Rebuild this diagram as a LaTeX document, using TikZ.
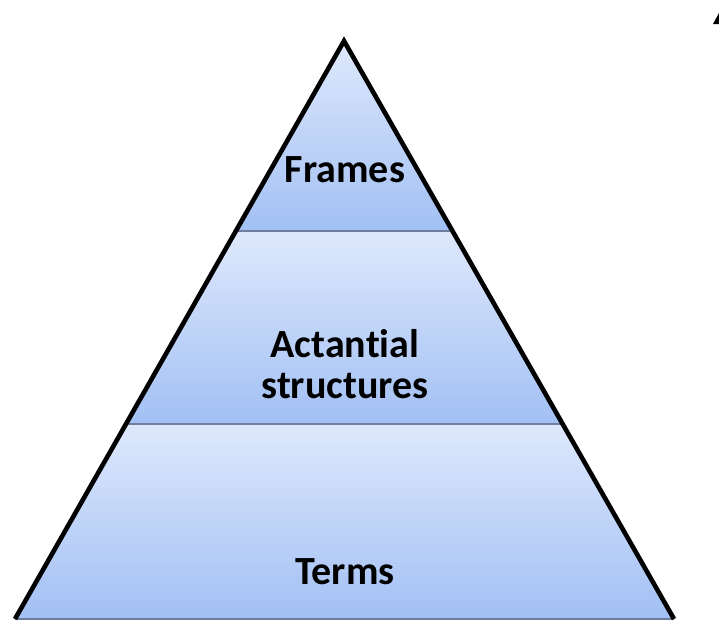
\documentclass[tikz,border=0pt]{standalone}
\usepackage{fontspec}
\setmainfont{Carlito}[Ligatures={NoCommon}]
\usetikzlibrary{calc}
\definecolor{bandtop}{RGB}{222,232,252}
\definecolor{bandbot}{RGB}{162,192,244}
\definecolor{divider}{RGB}{110,126,156}
\tikzset{
  band/.style={top color=bandtop, bottom color=bandbot, draw=none},
  divline/.style={draw=divider, line width=1.6pt},
  edge/.style={draw=black, line width=4.6pt, line join=miter, line cap=butt},
  label/.style={font=\fontsize{40}{41}\selectfont\bfseries, text=black, align=center, inner sep=0pt},
}
\begin{document}
\begin{tikzpicture}[x=1pt, y=-1pt]
  \useasboundingbox (0,0) rectangle (719,622);
  % pyramid corners
  \coordinate (apex) at (344,41);
  \coordinate (bl) at (15,619);
  \coordinate (br) at (674,619);
  % points where the dividers meet the sides
  \coordinate (l1) at ($(apex)!0.3287!(bl)$);
  \coordinate (r1) at ($(apex)!0.3287!(br)$);
  \coordinate (l2) at ($(apex)!0.6626!(bl)$);
  \coordinate (r2) at ($(apex)!0.6626!(br)$);
  % shaded bands
  \shade[band] (apex) -- (r1) -- (l1) -- cycle;
  \shade[band] (l1) -- (r1) -- (r2) -- (l2) -- cycle;
  \shade[band] (l2) -- (r2) -- (br) -- (bl) -- cycle;
  % dividers and base
  \draw[divline] (l1) -- (r1);
  \draw[divline] (l2) -- (r2);
  \draw[divline] (bl) -- (br);
  % outline of the two sides
  \draw[edge] (bl) -- (apex) -- (br);
  % small mark in the corner
  \fill[black] (713,24) -- (719,24) -- (719,13) -- cycle;
  % labels
  \node[label, anchor=base] (frames) at (345,182) {Frames};
  \node[label] (actant) at (345,364) {Actantial\\structures};
  \node[label, anchor=base] (terms) at (345,584) {Terms};
\end{tikzpicture}
\end{document}
